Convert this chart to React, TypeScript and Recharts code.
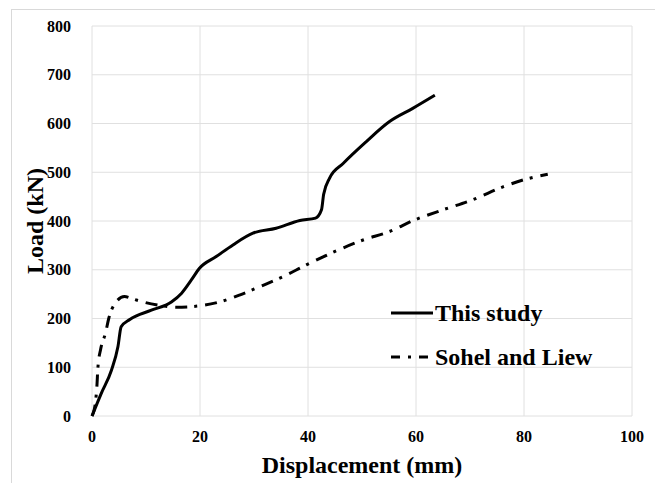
import { LineChart, Line, XAxis, YAxis, CartesianGrid, Label } from 'recharts'

const xTicks = [0, 20, 40, 60, 80, 100]
const yTicks = [0, 100, 200, 300, 400, 500, 600, 700, 800]

// This study
const thisStudy = [
  { x: 0, y: 0 },
  { x: 1.7, y: 46 },
  { x: 3.6, y: 94 },
  { x: 4.8, y: 142 },
  { x: 5.4, y: 183 },
  { x: 7, y: 198 },
  { x: 11, y: 217 },
  { x: 14.7, y: 234 },
  { x: 16.6, y: 252 },
  { x: 18.4, y: 279 },
  { x: 19.9, y: 303 },
  { x: 23, y: 327 },
  { x: 26.1, y: 351 },
  { x: 29.8, y: 375 },
  { x: 34.1, y: 385 },
  { x: 38.5, y: 401 },
  { x: 41.4, y: 406 },
  { x: 42.5, y: 423 },
  { x: 42.9, y: 455 },
  { x: 44, y: 488 },
  { x: 46.5, y: 518 },
  { x: 50.8, y: 563 },
  { x: 55.1, y: 604 },
  { x: 59.4, y: 631 },
  { x: 63.5, y: 658 },
]

// Sohel and Liew
const sohelLiew = [
  { x: 0, y: 0 },
  { x: 0.6, y: 25 },
  { x: 0.9, y: 60 },
  { x: 1.1, y: 100 },
  { x: 1.6, y: 137 },
  { x: 2.5, y: 170 },
  { x: 3.1, y: 200 },
  { x: 4.2, y: 230 },
  { x: 6, y: 245 },
  { x: 7.6, y: 240 },
  { x: 9.8, y: 233 },
  { x: 12.5, y: 227 },
  { x: 15.6, y: 223 },
  { x: 19.9, y: 226 },
  { x: 23.6, y: 234 },
  { x: 27.3, y: 248 },
  { x: 31, y: 265 },
  { x: 35.4, y: 286 },
  { x: 39.7, y: 310 },
  { x: 44.9, y: 337 },
  { x: 50.2, y: 361 },
  { x: 55, y: 378 },
  { x: 59.5, y: 401 },
  { x: 65, y: 423 },
  { x: 70.6, y: 444 },
  { x: 76.1, y: 470 },
  { x: 79.8, y: 484 },
  { x: 84.4, y: 496 },
]

const FONT = '"Liberation Serif", "Times New Roman", serif'
const DASH_DOT = '12 7 3 8'

const LegendBox = () => (
  <div
    style={{
      position: 'absolute',
      left: 390,
      top: 291,
      fontFamily: FONT,
      fontWeight: 'bold',
      fontSize: 24,
      color: '#000',
    }}
  >
    <div style={{ display: 'flex', alignItems: 'center', height: 44 }}>
      <svg width={45} height={10}>
        <line x1={1} y1={5} x2={43} y2={5} stroke="#000" strokeWidth={3} />
      </svg>
      <span>This study</span>
    </div>
    <div style={{ display: 'flex', alignItems: 'center', height: 44 }}>
      <svg width={45} height={10}>
        <line x1={1} y1={5} x2={43} y2={5} stroke="#000" strokeWidth={3} strokeDasharray="9 8 3 8" />
      </svg>
      <span>Sohel and Liew</span>
    </div>
  </div>
)

const App = () => {
  return (
    <div style={{ position: 'absolute', left: 0, top: 0, width: 655, height: 483, background: '#fff', overflow: 'hidden' }}>
      <div
        style={{
          position: 'absolute',
          left: 11,
          top: 9,
          width: 700,
          height: 500,
          borderLeft: '1px solid #d9d9d9',
          borderTop: '1px solid #d9d9d9',
        }}
      />
      <LineChart
        width={655}
        height={483}
        margin={{ top: 26, right: 23, bottom: 0, left: 32 }}
        style={{ position: 'absolute', left: 0, top: 0, fontFamily: FONT }}
      >
        <CartesianGrid stroke="#e0e0e0" strokeWidth={1} />
        <XAxis
          type="number"
          dataKey="x"
          domain={[0, 100]}
          ticks={xTicks}
          axisLine={false}
          tickLine={false}
          height={67}
          tickMargin={9}
          tick={{ fill: '#000', fontSize: 16, fontWeight: 'bold', fontFamily: FONT }}
        >
          <Label
            value="Displacement (mm)"
            position="insideBottom"
            offset={10}
            style={{ fill: '#000', fontSize: 24, fontWeight: 'bold', fontFamily: FONT }}
          />
        </XAxis>
        <YAxis
          type="number"
          dataKey="y"
          domain={[0, 800]}
          ticks={yTicks}
          axisLine={false}
          tickLine={false}
          width={60}
          tickMargin={15}
          tick={{ fill: '#000', fontSize: 16, fontWeight: 'bold', fontFamily: FONT }}
        >
          <Label
            content={() => (
              <text
                x={35}
                y={221}
                transform="rotate(-90, 35, 221)"
                textAnchor="middle"
                dominantBaseline="central"
                style={{ fill: '#000', fontSize: 24, fontWeight: 'bold', fontFamily: FONT }}
              >
                Load (kN)
              </text>
            )}
          />
        </YAxis>
        <Line
          name="This study"
          data={thisStudy}
          dataKey="y"
          type="monotone"
          stroke="#000"
          strokeWidth={3}
          dot={false}
          isAnimationActive={false}
        />
        <Line
          name="Sohel and Liew"
          data={sohelLiew}
          dataKey="y"
          type="monotone"
          stroke="#000"
          strokeWidth={3}
          strokeDasharray={DASH_DOT}
          dot={false}
          isAnimationActive={false}
        />
      </LineChart>
      <LegendBox />
    </div>
  )
}

export default App
